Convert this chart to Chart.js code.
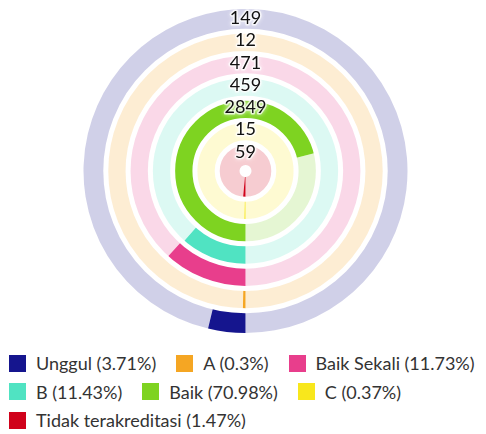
<!DOCTYPE html>
<html>
<head>
<meta charset="utf-8">
<script src="https://cdn.jsdelivr.net/npm/chart.js@4"></script>
<style>
  body { margin: 0; background: #fff; font-family: Lato, sans-serif; }
  #wrap { position: relative; width: 486px; height: 345px; }
  #legend {
    display: flex; flex-wrap: wrap; column-gap: 20px; row-gap: 11.5px;
    padding: 9.5px 0 0 9px; width: 477px; box-sizing: content-box;
  }
  .item { display: flex; align-items: center; height: 17px; font-size: 18px; color: #333; white-space: nowrap; }
  .box { width: 17px; height: 17px; margin-right: 10px; }
</style>
</head>
<body>
<div id="wrap"><canvas id="rings"></canvas></div>
<div id="legend"></div>
<script>
// data
const categories = ['Unggul', 'A', 'Baik Sekali', 'B', 'Baik', 'C', 'Tidak terakreditasi'];
const counts = [149, 12, 471, 459, 2849, 15, 59];
const colors = ['#15158e', '#f5a623', '#e83e8c', '#50e3c2', '#7ed321', '#f8e71c', '#d0021b'];

const total = counts.reduce((a, b) => a + b, 0);
const pct = v => Number((v / total * 100).toFixed(2));

function fade(hex) {
    const r = parseInt(hex.slice(1, 3), 16), g = parseInt(hex.slice(3, 5), 16), b = parseInt(hex.slice(5, 7), 16);
    return 'rgba(' + r + ',' + g + ',' + b + ',0.2)';
}

// white gaps between rings + value labels on top
const ringPlugin = {
    id: 'ringLabels',
    afterDatasetsDraw(chart) {
        const ctx = chart.ctx;
        const first = chart.getDatasetMeta(0).data[0];
        const cx = first.x, cy = first.y;
        const n = chart.data.datasets.length;
        ctx.save();
        ctx.strokeStyle = '#fff';
        ctx.lineWidth = 5;
        for (let i = 0; i < n - 1; i++) {
            const ctrl = chart.getDatasetMeta(i).controller;
            ctx.beginPath();
            ctx.arc(cx, cy, ctrl.innerRadius, 0, Math.PI * 2);
            ctx.stroke();
        }
        ctx.font = '18px Lato';
        ctx.textAlign = 'center';
        ctx.textBaseline = 'middle';
        ctx.lineJoin = 'round';
        for (let i = 0; i < n; i++) {
            const ctrl = chart.getDatasetMeta(i).controller;
            const r = (ctrl.outerRadius + ctrl.innerRadius) / 2;
            const y = cy - r - 2;
            const txt = String(counts[i]);
            ctx.shadowColor = 'rgba(255,255,255,0.9)';
            ctx.shadowBlur = 4;
            ctx.lineWidth = 3;
            ctx.strokeStyle = 'rgba(255,255,255,0.7)';
            ctx.strokeText(txt, cx, y);
            ctx.shadowBlur = 0;
            ctx.fillStyle = '#111';
            ctx.fillText(txt, cx, y);
        }
        ctx.restore();
    }
};

new Chart(document.getElementById('rings'), {
    type: 'doughnut',
    data: {
        labels: ['value', 'rest'],
        datasets: categories.map((c, i) => ({
            label: c,
            data: [counts[i], total - counts[i]],
            backgroundColor: [colors[i], fade(colors[i])],
            borderWidth: 0
        }))
    },
    options: {
        responsive: true,
        maintainAspectRatio: false,
        animation: false,
        rotation: 180,
        cutout: 6,
        layout: { padding: { top: 9, bottom: 12, left: 5 } },
        plugins: {
            legend: { display: false },
            tooltip: { enabled: false }
        }
    },
    plugins: [ringPlugin]
});

// legend
const legend = document.getElementById('legend');
categories.forEach((c, i) => {
    const item = document.createElement('div');
    item.className = 'item';
    const box = document.createElement('span');
    box.className = 'box';
    box.style.background = colors[i];
    item.appendChild(box);
    item.appendChild(document.createTextNode(c + ' (' + pct(counts[i]) + '%)'));
    legend.appendChild(item);
});
</script>
</body>
</html>
